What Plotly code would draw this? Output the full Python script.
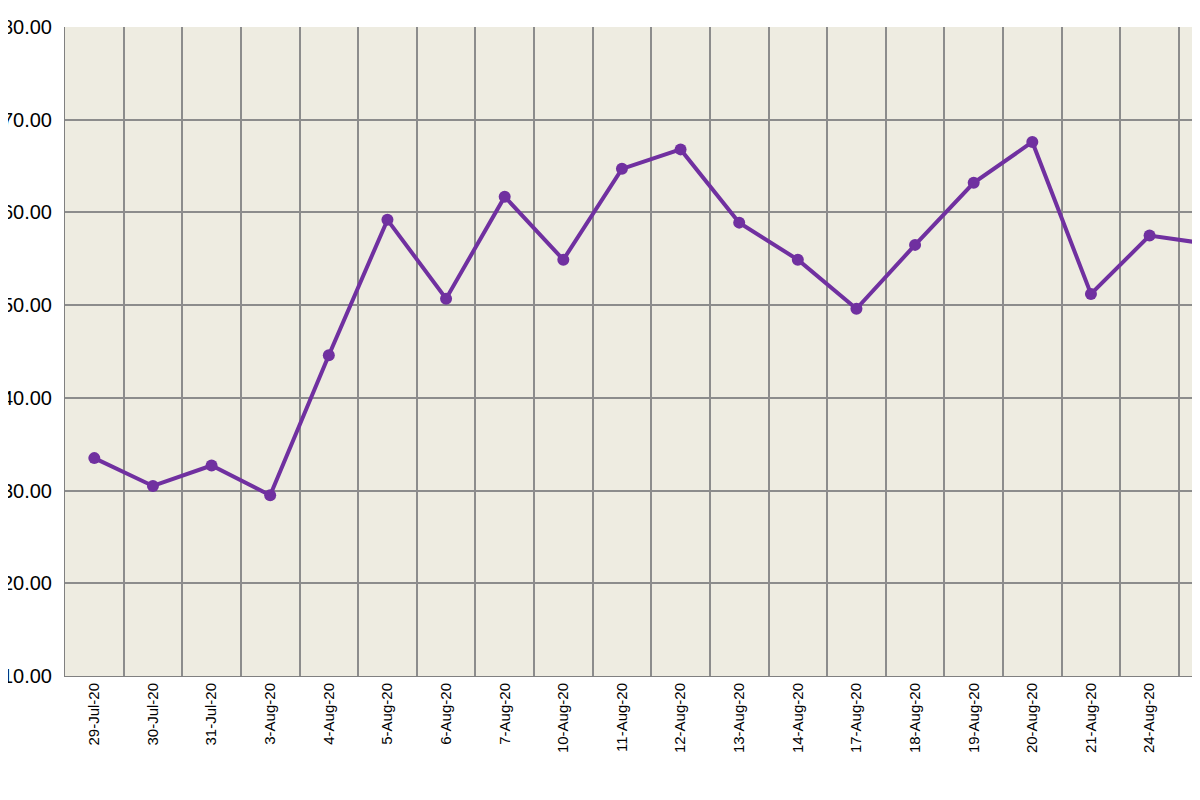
import plotly.graph_objects as go

dates = ["29-Jul-20","30-Jul-20","31-Jul-20","3-Aug-20","4-Aug-20","5-Aug-20","6-Aug-20",
         "7-Aug-20","10-Aug-20","11-Aug-20","12-Aug-20","13-Aug-20","14-Aug-20","17-Aug-20",
         "18-Aug-20","19-Aug-20","20-Aug-20","21-Aug-20","24-Aug-20","25-Aug-20"]
values = [23.5,20.5,22.7,19.5,34.6,49.2,40.7,51.7,44.9,54.7,56.8,48.9,44.9,39.6,
          46.5,53.2,57.6,41.2,47.5,46.6]
ytick_vals = [0,10,20,30,40,50,60,70]
ytick_text = ["10.00","20.00","30.00","40.00","50.00","60.00","70.00","80.00"]

idx = list(range(len(dates)))
fig = go.Figure(go.Scatter(x=idx, y=values, mode="lines+markers",
                           line=dict(color="#7030A0", width=4),
                           marker=dict(color="#7030A0", size=12)))
fig.update_layout(
    width=1192, height=792, showlegend=False,
    paper_bgcolor="white", plot_bgcolor="#EEECE1",
    margin=dict(l=57, r=0, t=19, b=124),
    font=dict(family="Liberation Sans", size=15, color="black"),
    xaxis=dict(range=[-0.5, 18.86], tickvals=idx, ticktext=dates, tickangle=-90,
               showgrid=False, zeroline=False, showline=True, linecolor="#808080",
               ticks="", automargin=False, tickfont=dict(size=15),
               minor=dict(tick0=-0.5, dtick=1, showgrid=True, gridcolor="#8C8C8C", gridwidth=1.5)),
    yaxis=dict(range=[0, 70], tickvals=ytick_vals, ticktext=ytick_text,
               showgrid=True, gridcolor="#8C8C8C", gridwidth=1.5, zeroline=False,
               showline=True, linecolor="#808080", ticks="", automargin=False,
               tickfont=dict(size=20), ticklabelstandoff=8),
    shapes=[dict(type="line", xref="paper", yref="paper", x0=-0.1, x1=1, y0=1.037, y1=1.037,
                 line=dict(color="#9A9A9A", width=1.5))],
)
fig.write_html("out.html")
